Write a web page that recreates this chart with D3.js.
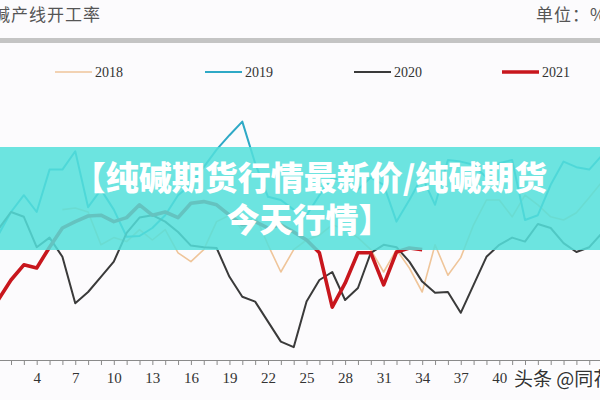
<!DOCTYPE html>
<html>
<head>
<meta charset="utf-8">
<script src="https://cdn.jsdelivr.net/npm/d3@7"></script>
<style>
  body { margin: 0; background: #fcfbfd; }
  svg { display: block; }
</style>
</head>
<body>
<div id="chart"></div>
<script>
// weeks shown on the x axis
var weeks = d3.range(1, 53);
var tickWeeks = d3.range(4, 41, 3);

// operating rate, %, by week (null = no data)
var rate2018 = [null, null, null, null, null,
  78.8, 79, 78.5, 74.4, 75.3, 74.8, 76.3, 75, 76.3, 73.4,
  72.3, 73.8, 77.3, 78.1, 76.3, 78.1, 74.4, 71, 73.8, 75,
  75.6, 76.9, 76.3, 75.3, 73.8, 71, 73.8, 71.5, 68.5, 74.4,
  70.6, 72.8, 76.9, 80, 80, 77.9, 80.6, 79.4, 77.9, 77.5,
  78.4, 80.3, 82.3];
var rate2019 = [75.6, 78.5, 80.6, 78.5, 83.8, 83.8, 86.1, 79.1, 81.3, 78.8,
  75.4, 75.5, 76.5, 78.1, 80.6, 81.9, 84.1, 86.3, 88.1, 89.8,
  84.6, 80.4, 80, 78.8, 78.1, 80.6, 82.8, 82.3, 81.3, 82.8,
  81.9, 77.3, 80, 82.9, 79.4, 85, 84.8, 84.4, 82.8, 84.6,
  85, 77.5, 78.1, 81.9, 84.8, 84.1, 83.8, 85.6];
var rate2020 = [76.3, 78.5, 77.9, 74.1, 75.3, 72.9, 67.1, 68.5, 70.4, 72.3,
  75.9, 77.8, 78.1, 77.3, 76, 74.3, 74.1, 74, 70.4, 67.9,
  67.3, 64.8, 62.3, 61.6, 67.3, 70, 71, 67.5, 69, 73.4,
  74.4, 74.1, 72.3, 69.8, 68.4, 68.5, 65.9, 69.4, 72.9, 74.4,
  75.3, 74.8, 77, 76.5, 74.6, 73.5, 74.1, 75.9];
var rate2021 = [67.5, 70, 71.9, 71.5, 74.1, 76.5, 77.3, 78, 78.1, 77.3,
  77.8, 79.4, 78.1, 78.5, 77.8, 79.6, 79.8, 79.4, 78.1, 76.9,
  77.3, 76.5, 76.9, 76, 75, 73.4, 66.6, 69.6, 73.4, 73.4,
  69.4, 73.5, 74, 73.8];

var seriesNames = ["2018", "2019", "2020", "2021"];

var width = 600, height = 400;

var svg = d3.select("#chart").append("svg")
  .attr("width", width)
  .attr("height", height);

svg.append("rect").attr("width", width).attr("height", height).attr("fill", "#fcfbfd");

var x = d3.scaleLinear().domain([1, 48]).range([-1.85, 602.1]);
var y = d3.scaleLinear().domain([60, 95]).range([360, 80]);

// header
svg.append("text")
  .attr("x", -25).attr("y", 21)
  .attr("font-family", "Noto Sans CJK SC")
  .attr("font-size", 17)
  .attr("fill", "#555")
  .attr("letter-spacing", 1)
  .text("纯碱产线开工率");
svg.append("text")
  .attr("x", 536).attr("y", 21)
  .attr("font-family", "Noto Sans CJK SC")
  .attr("font-size", 17)
  .attr("fill", "#555")
  .attr("letter-spacing", 1)
  .text("单位：%");
svg.append("rect")
  .attr("x", 0).attr("y", 38).attr("width", width).attr("height", 5)
  .attr("fill", "#c4c4c4");

var styles = {
  "2018": {color: "#efc59a", w: 1.6},
  "2019": {color: "#2fa9c6", w: 2},
  "2020": {color: "#3a3a3a", w: 2},
  "2021": {color: "#c8161d", w: 3.6}
};

// legend
var legendX = [55, 205, 354, 502];
var legend = svg.selectAll(".legend")
  .data(seriesNames)
  .enter().append("g")
  .attr("class", "legend")
  .attr("transform", function (d, i) { return "translate(" + legendX[i] + ",72)"; });
legend.append("line")
  .attr("x1", 0).attr("x2", 37)
  .attr("stroke", function (d) { return styles[d].color; })
  .attr("stroke-width", function (d) { return styles[d].w; });
legend.append("text")
  .attr("x", 40).attr("dy", "0.35em")
  .attr("font-family", "Liberation Serif")
  .attr("font-size", 14)
  .attr("fill", "#333")
  .text(function (d) { return d; });

// x axis, one tick per week, labels every third week
var axis = d3.axisBottom(x)
  .tickValues(weeks)
  .tickSize(5)
  .tickFormat(function (d) { return tickWeeks.indexOf(d) >= 0 ? d : ""; });
var gx = svg.append("g")
  .attr("transform", "translate(0,360)")
  .call(axis);
gx.select(".domain").attr("stroke", "#8a8a8a").attr("d", "M0,0.5H600");
gx.selectAll(".tick line").attr("stroke", "#8a8a8a");
gx.selectAll(".tick text")
  .attr("y", 12)
  .attr("font-family", "Liberation Serif")
  .attr("font-size", 15)
  .attr("fill", "#333");

// lines
var line = d3.line()
  .defined(function (d) { return d != null; })
  .x(function (d, i) { return x(i + 1); })
  .y(function (d) { return y(d); });

var allSeries = [rate2018, rate2019, rate2020, rate2021];
svg.selectAll(".series")
  .data(allSeries)
  .enter().append("path")
  .attr("class", "series")
  .attr("fill", "none")
  .attr("stroke-linejoin", "round")
  .attr("stroke", function (d, i) { return styles[seriesNames[i]].color; })
  .attr("stroke-width", function (d, i) { return styles[seriesNames[i]].w; })
  .attr("d", line);

// banner overlay
svg.append("rect")
  .attr("x", 0).attr("y", 147).attr("width", width).attr("height", 103)
  .attr("fill", "#54e0db")
  .attr("opacity", 0.86);
var bannerText = svg.append("text")
  .attr("text-anchor", "middle")
  .attr("font-family", "Noto Sans CJK SC")
  .attr("font-weight", 900)
  .attr("font-size", 33)
  .attr("fill", "#fff");
bannerText.append("tspan").attr("x", 310).attr("y", 190).text("【纯碱期货行情最新价/纯碱期货");
bannerText.append("tspan").attr("x", 309).attr("y", 232).text("今天行情】");

// watermark
svg.append("text")
  .attr("x", 514).attr("y", 386)
  .attr("font-family", "Noto Sans CJK SC")
  .attr("font-size", 19)
  .attr("fill", "#333")
  .attr("stroke", "#fff")
  .attr("stroke-width", 3)
  .attr("paint-order", "stroke")
  .text("头条 @同花顺");
</script>
</body>
</html>
